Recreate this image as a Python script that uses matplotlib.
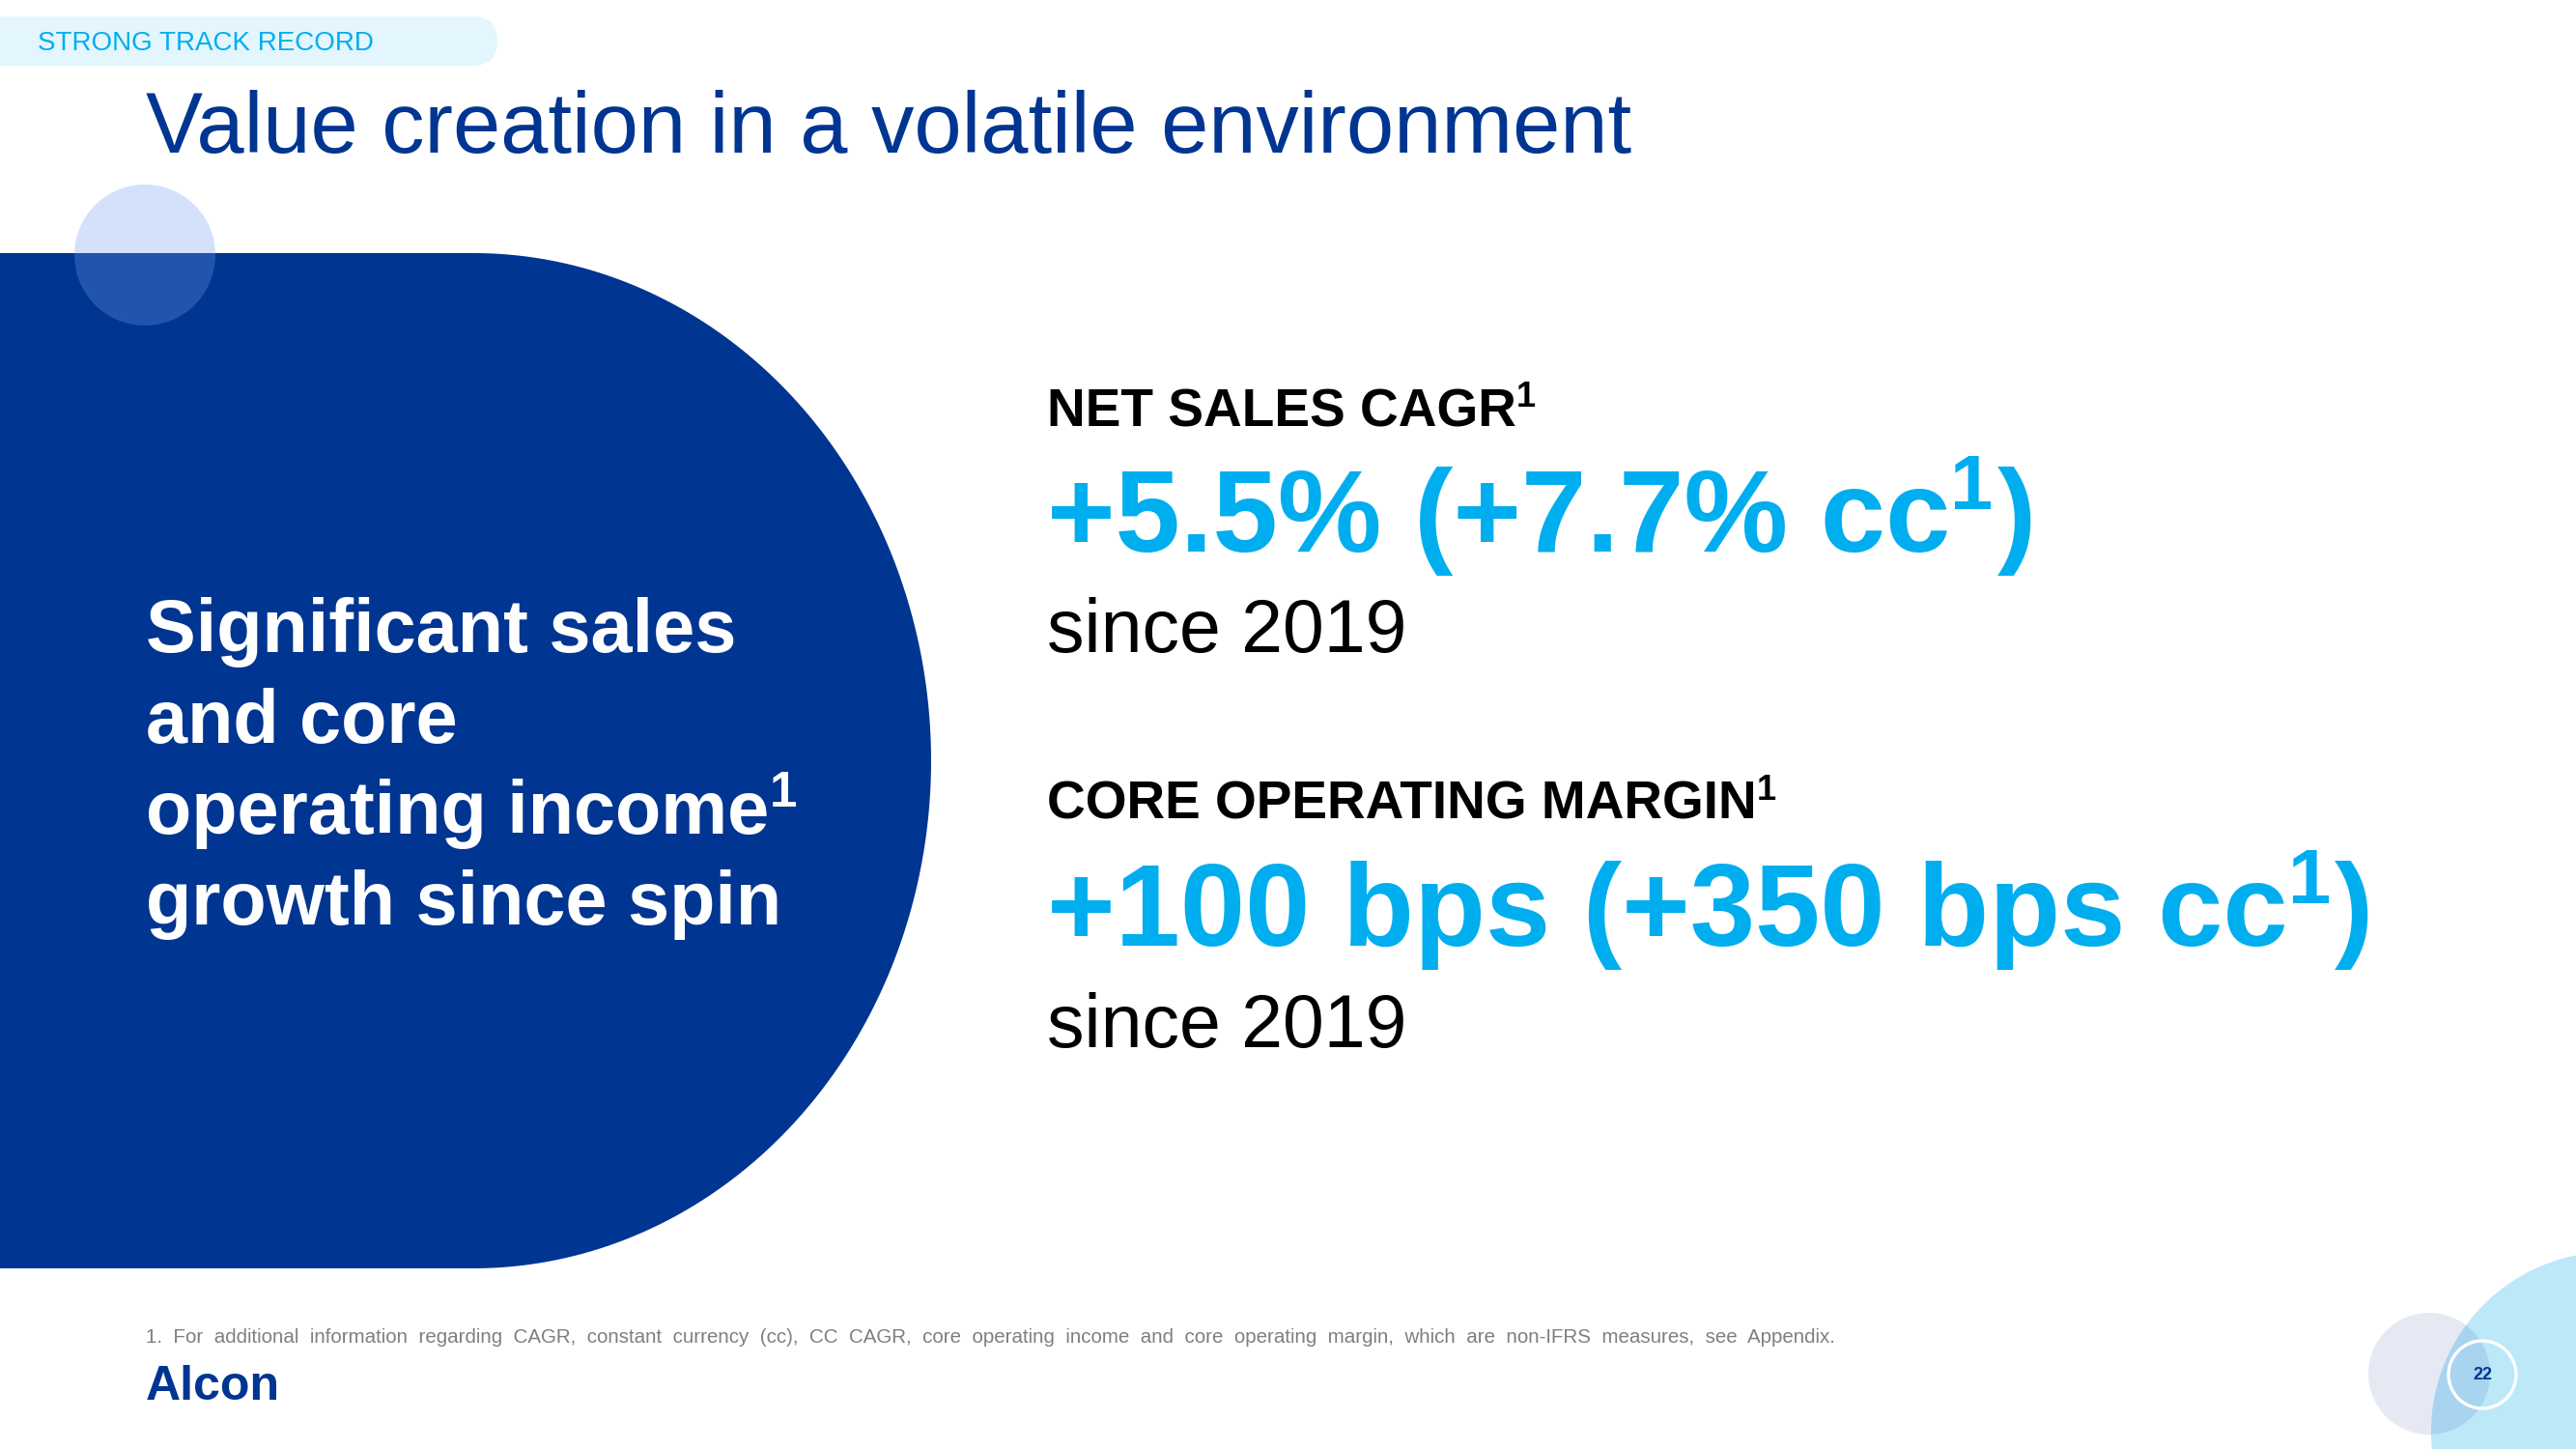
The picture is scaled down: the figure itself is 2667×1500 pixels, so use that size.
import matplotlib
matplotlib.use("Agg")
import matplotlib.pyplot as plt
from matplotlib.patches import Circle, FancyBboxPatch, PathPatch
from matplotlib.path import Path
import numpy as np

# ---- content ----
tag_text = "STRONG TRACK RECORD"
title_text = "Value creation in a volatile environment"
left_lines = ["Significant sales", "and core", "operating income", "growth since spin"]
left_sup = [False, False, True, False]
metric_labels = ["NET SALES CAGR", "CORE OPERATING MARGIN"]
metric_values = ["+5.5% (+7.7% cc", "+100 bps (+350 bps cc"]
metric_since = ["since 2019", "since 2019"]
footnote_words = ("1. For additional information regarding CAGR, constant currency (cc), CC CAGR, "
                  "core operating income and core operating margin, which are non-IFRS measures, see Appendix.").split(" ")
logo_text = "Alcon"
page_no = "22"

# ---- colours ----
DARK = "#003591"
CYAN = "#00AEEF"
W, H = 2667, 1500
FONT = "Liberation Sans"

fig = plt.figure(figsize=(W / 100, H / 100), dpi=100)
ax = fig.add_axes([0, 0, 1, 1])
ax.set_xlim(0, W)
ax.set_ylim(H, 0)
ax.axis("off")
renderer = fig.canvas.get_renderer()

def px(p):  # pixel em -> points
    return p * 0.72

# tag pill
ax.add_patch(FancyBboxPatch((-60, 17), 575, 51, boxstyle="round,pad=0,rounding_size=25.5",
                            fc="#E3F6FD", ec="none", zorder=1))
ax.text(39, 45, tag_text, fontsize=px(27.8), color=CYAN, family=FONT, va="center", ha="left")

# title
ax.text(151, 158, title_text, fontsize=px(88.5), color=DARK, family=FONT, va="baseline", ha="left")

# big dark D-shape
cx, cy, rx, ry = 490, 787.5, 474, 525.5
th = np.linspace(-np.pi / 2, np.pi / 2, 200)
verts = [(0, cy - ry), (cx, cy - ry)] + [(cx + rx * np.cos(t), cy + ry * np.sin(t)) for t in th] + [(0, cy + ry), (0, cy - ry)]
ax.add_patch(PathPatch(Path(verts), fc=DARK, ec="none", zorder=2))

# small translucent circle
ax.add_patch(Circle((150, 264), 73, fc="#729EF2", ec="none", alpha=0.3, zorder=3))

SUP_SIZE, SUP_RAISE = 0.66, 0.36

def rich(x, y, parts, color, weight, zorder=5):
    for s, size, raise_ in parts:
        t = ax.text(x, y - raise_, s, fontsize=px(size), color=color, family=FONT,
                    fontweight=weight, va="baseline", ha="left", zorder=zorder)
        bb = t.get_window_extent(renderer)
        x += bb.width
    return x

def with_sup(text, em):
    return [(text, em, 0), ("1", em * SUP_SIZE, em * SUP_RAISE)]

# left statement
em_l = 77.5
for i, (line, sup) in enumerate(zip(left_lines, left_sup)):
    yb = 675 + i * 94
    parts = with_sup(line, em_l) if sup else [(line, em_l, 0)]
    rich(151, yb, parts, "white", "bold")

# metrics
x0 = 1084
blocks_y = [(441, 571, 675), (848, 979, 1084)]
for (yl, yv, ys), lab, val, since in zip(blocks_y, metric_labels, metric_values, metric_since):
    rich(x0, yl, with_sup(lab, 55), "black", "bold")
    xe = rich(x0, yv, with_sup(val, 121), CYAN, "bold")
    rich(xe + 4, yv, [(")", 121, 0)], CYAN, "bold")
    ax.text(x0, ys, since, fontsize=px(77), color="black", family=FONT, va="baseline", ha="left")

# footnote (justified-looking wide word spacing)
ax.text(151, 1390, "  ".join(footnote_words), fontsize=px(20.5), color="#7F7F7F", family=FONT,
        va="baseline", ha="left")

# logo
ax.text(151, 1449, logo_text, fontsize=px(50), color=DARK, family=FONT, fontweight="bold",
        va="baseline", ha="left")

# bottom-right circles
gray_c, gray_r = (2515, 1422), 63
blue_c, blue_r = (2703, 1482), 186
ax.add_patch(Circle(gray_c, gray_r, fc="#E6E9F3", ec="none", zorder=2))
bc = Circle(blue_c, blue_r, fc="#BDE8F8", ec="none", zorder=3)
ax.add_patch(bc)
ov = Circle(gray_c, gray_r, fc="#A8D4EF", ec="none", zorder=4)
ax.add_patch(ov)
ov.set_clip_path(bc)
ax.add_patch(Circle((2570, 1423), 35, fc="none", ec="white", lw=2.4, zorder=5))
ax.text(2570, 1424, page_no, fontsize=px(18), color=DARK, family=FONT, fontweight="bold",
        va="center", ha="center", zorder=6)

fig.savefig("out.png", dpi=100)
